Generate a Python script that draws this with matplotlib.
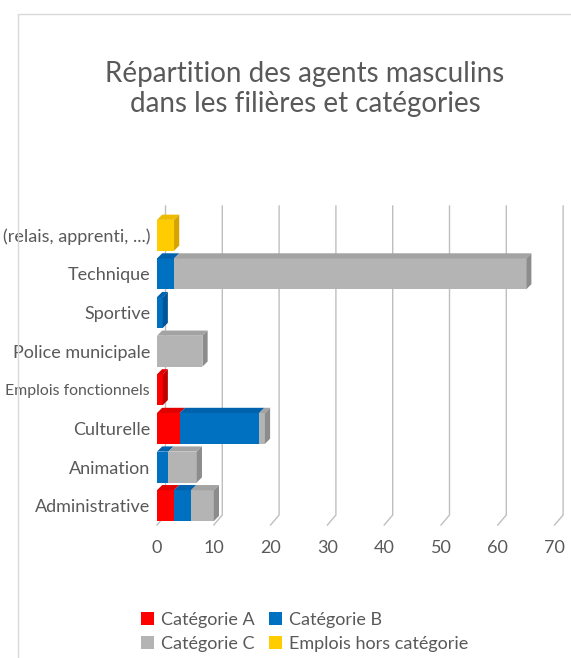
import matplotlib.pyplot as plt
from matplotlib.patches import Polygon, Rectangle

plt.rcParams['font.family'] = ['Lato', 'DejaVu Sans']

filieres = ["Administrative", "Animation", "Culturelle", "Emplois fonctionnels",
            "Police municipale", "Sportive", "Technique",
            "(relais, apprenti, ...)"]
cat_a = [3, 0, 4, 1, 0, 0, 0, 0]
cat_b = [3, 2, 14, 0, 0, 1, 3, 0]
cat_c = [4, 5, 1, 0, 8, 0, 62, 0]
hors_cat = [0, 0, 0, 0, 0, 0, 0, 3]
x_ticks = [0, 10, 20, 30, 40, 50, 60, 70]

series = [
    ("Catégorie A", cat_a, "#FF0000", "#E00000", "#C00000"),
    ("Catégorie B", cat_b, "#0070C0", "#0062AC", "#00559A"),
    ("Catégorie C", cat_c, "#B4B4B4", "#A3A3A3", "#8C8C8C"),
    ("Emplois hors catégorie", hors_cat, "#FFCC00", "#EDBB00", "#D6A400"),
]

W, H = 571, 658
fig = plt.figure(figsize=(W / 100, H / 100), dpi=100)
ax_left, ax_right, ax_top, ax_bot = 157, 554.6, 216, 525
ax = fig.add_axes([ax_left / W, 1 - ax_bot / H, (ax_right - ax_left) / W, (ax_bot - ax_top) / H])
ax.set_xlim(0, 70)
ax.set_ylim(-0.5, len(filieres) - 0.5)

# pixel -> data conversion for the fake 3d depth
px_x = (ax_right - ax_left) / 70
px_y = (ax_bot - ax_top) / len(filieres)
bar_dx, bar_dy = 5.2 / px_x, 5.2 / px_y
wall_dx, wall_dy = 8.5 / px_x, 10 / px_y
bar_h = 0.8

grid_col = "#BFBFBF"
for v in x_ticks:
    ax.plot([v, v + wall_dx, v + wall_dx],
            [-0.5, -0.5 + wall_dy, len(filieres) - 0.5 + wall_dy],
            color=grid_col, lw=1, clip_on=False, zorder=0)

ypos = list(range(len(filieres)))
lefts = [0] * len(filieres)
totals = [a + b + c + d for a, b, c, d in zip(cat_a, cat_b, cat_c, hors_cat)]
handles = {}
for name, vals, col, top_col, side_col in series:
    bars = ax.barh(ypos, vals, left=lefts, height=bar_h, color=col, zorder=2, label=name)
    handles[name] = bars
    for i, v in enumerate(vals):
        if v == 0:
            continue
        l, r = lefts[i], lefts[i] + v
        top = ypos[i] + bar_h / 2
        bot = ypos[i] - bar_h / 2
        ax.add_patch(Polygon([(l, top), (r, top), (r + bar_dx, top + bar_dy), (l + bar_dx, top + bar_dy)],
                             facecolor=top_col, edgecolor="none", zorder=2, clip_on=False))
        if r == totals[i]:
            ax.add_patch(Polygon([(r, bot), (r, top), (r + bar_dx, top + bar_dy), (r + bar_dx, bot + bar_dy)],
                                 facecolor=side_col, edgecolor="none", zorder=2, clip_on=False))
    lefts = [a + b for a, b in zip(lefts, vals)]

for s in ax.spines.values():
    s.set_visible(False)
ax.set_xticks(x_ticks)
ax.set_yticks(ypos)
ax.set_yticklabels(filieres)
ax.tick_params(axis="both", length=0, labelsize=13, labelcolor="#595959")
ax.tick_params(axis="x", pad=11)
ax.tick_params(axis="y", pad=5)
# the longest label has to stay inside the picture
ax.get_yticklabels()[3].set_fontsize(11.4)

fig.text(305 / W, 1 - 89 / H, "Répartition des agents masculins\ndans les filières et catégories",
         ha="center", va="center", fontsize=20, color="#595959", linespacing=1.22)

order = ["Catégorie A", "Catégorie C", "Catégorie B", "Emplois hors catégorie"]
fig.legend([handles[n] for n in order], order, ncol=2, loc="center",
           bbox_to_anchor=(305 / W, 1 - 632 / H), frameon=False, fontsize=13,
           labelcolor="#595959", handlelength=0.7, handleheight=0.7,
           handletextpad=0.4, columnspacing=0.8, labelspacing=0.45)

fig.patches.append(Rectangle((18 / W, -0.05), 1.0, (H - 14) / H + 0.05, transform=fig.transFigure,
                             fill=False, edgecolor="#D9D9D9", lw=1, zorder=0))

fig.savefig("out.png", dpi=100)
